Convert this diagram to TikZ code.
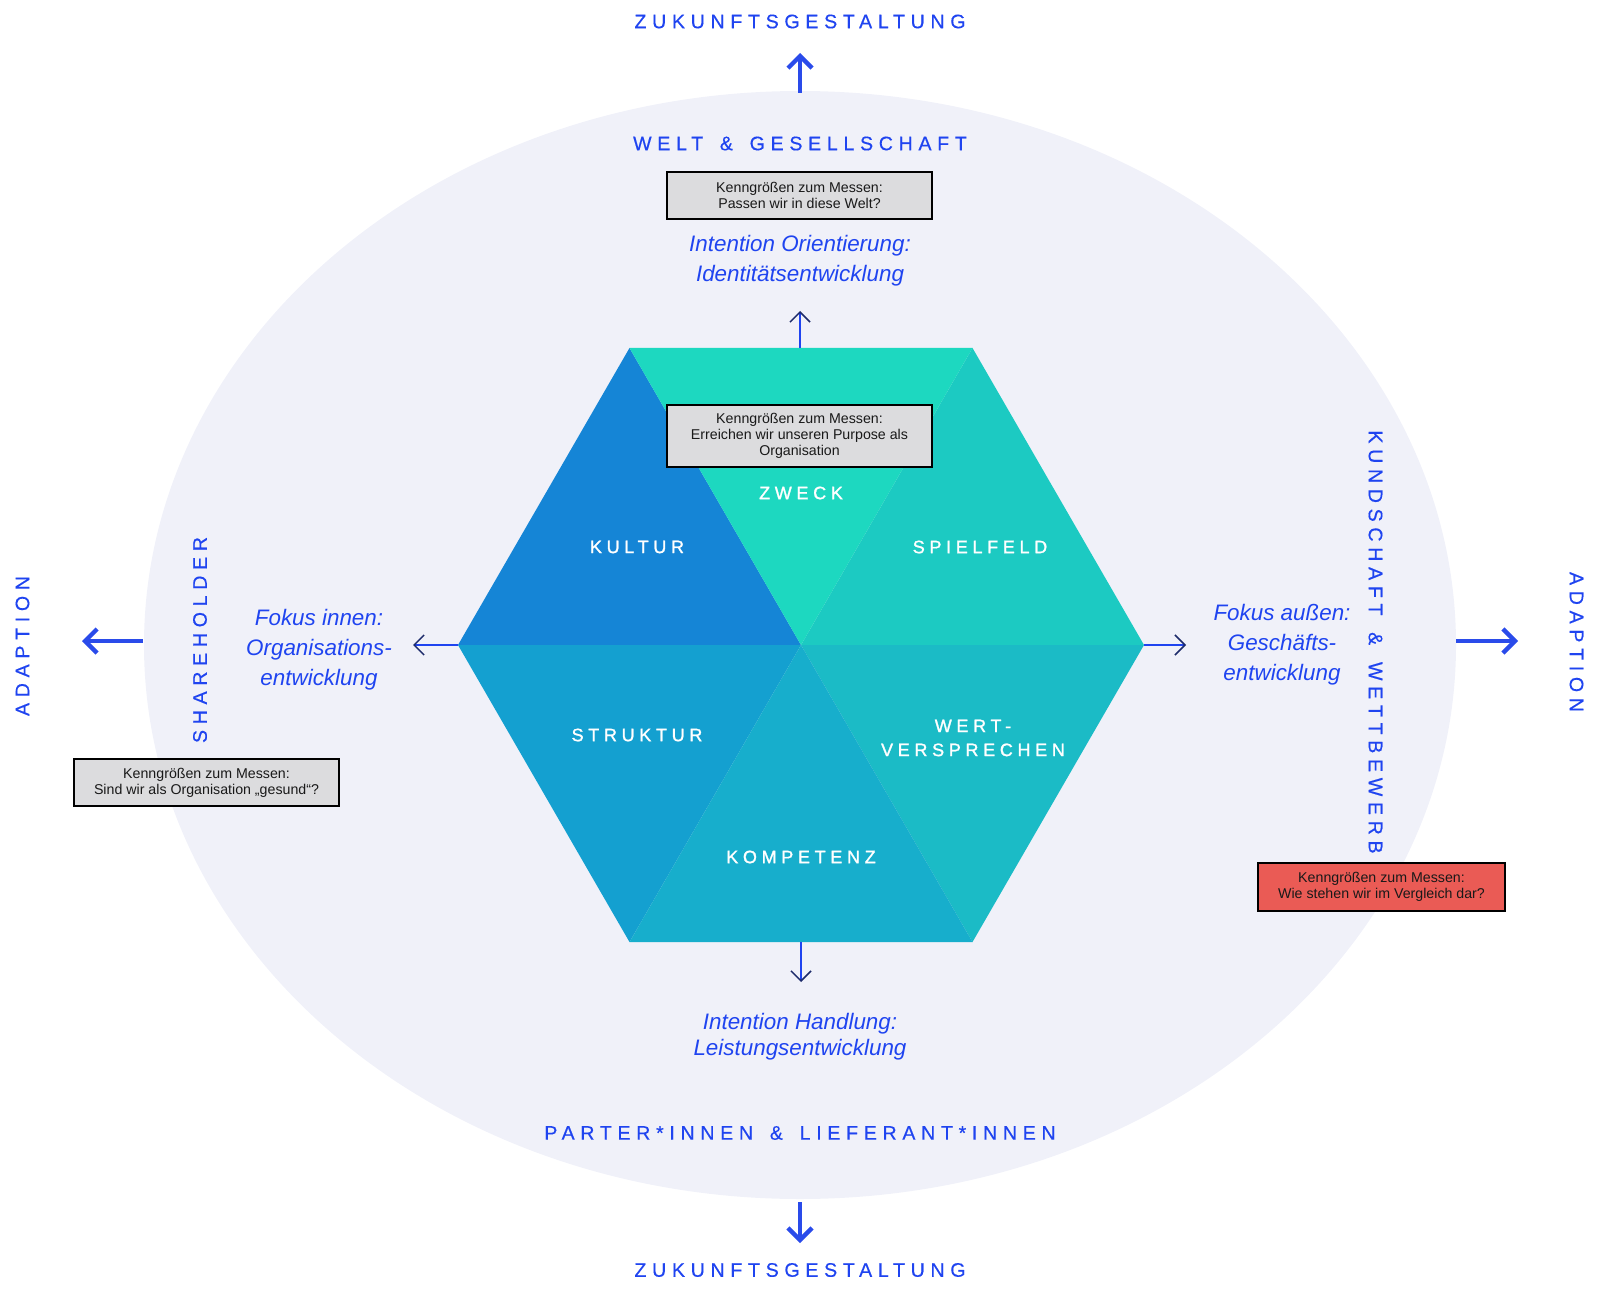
\documentclass[tikz,border=0pt]{standalone}
\usepackage{fontspec}
\setmainfont{Liberation Sans}
\newfontfamily\spacedfont[LetterSpace=29, RawFeature={embolden=0.4}]{Liberation Sans}
\newfontfamily\hexfont[LetterSpace=26, RawFeature={embolden=1.3}]{Liberation Sans}
\usetikzlibrary{arrows.meta}
\definecolor{ink}{HTML}{1F44F0}
\definecolor{inkarrow}{HTML}{2A4BEA}
\definecolor{navyhead}{HTML}{1D2B6B}
\definecolor{bg}{HTML}{F0F1F9}
\definecolor{cZweck}{HTML}{1DD8C0}
\definecolor{cKultur}{HTML}{1585D6}
\definecolor{cSpiel}{HTML}{1CCAC2}
\definecolor{cStruktur}{HTML}{14A0D0}
\definecolor{cKomp}{HTML}{17AECC}
\definecolor{cWert}{HTML}{1BBBC6}
\definecolor{boxgray}{HTML}{DCDCDE}
\definecolor{boxred}{HTML}{EA5B55}
\newcommand{\amp}{\hspace{2.8pt} \& \hspace{2.8pt}}
\tikzset{
  outerlabel/.style={text=ink, inner sep=0pt, font=\spacedfont\fontsize{9.8}{11}\selectfont},
  hexlabel/.style={text=white, inner sep=0pt, align=center, font=\hexfont\fontsize{9}{11}\selectfont},
  intent/.style={text=ink, inner sep=0pt, align=center, font=\fontsize{11.2}{15}\selectfont\itshape},
  kbox/.style={draw=black, line width=1pt, fill=boxgray, minimum width=132.5pt, minimum height=23.5pt,
    inner sep=0pt, align=center, text=black!90, font=\fontsize{7.1}{8}\selectfont},
  thickarrow/.style={line width=2.2pt, draw=inkarrow, -{Straight Barb[length=6pt,width=12pt]}},
  thinarrow/.style={line width=0.75pt, draw=ink, -{Straight Barb[length=5pt,width=10pt,color=navyhead]}}
}
\begin{document}
\begin{tikzpicture}[x=0.5pt,y=-0.5pt]
\useasboundingbox (0,0) rectangle (1600,1294);
% background ellipse
\fill[bg] (800,645) ellipse [x radius=328pt, y radius=277pt];
% hexagon coordinates
\coordinate (C) at (801,645);
\coordinate (L) at (458,645);
\coordinate (TL) at (629.5,348);
\coordinate (TR) at (972.5,348);
\coordinate (R) at (1144,645);
\coordinate (BR) at (972.5,942);
\coordinate (BL) at (629.5,942);
\fill[cKultur] (TL) -- (L) -- (C) -- cycle;
\fill[cSpiel] (TR) -- (R) -- (C) -- cycle;
\fill[cStruktur] (L) -- (BL) -- (C) -- cycle;
\fill[cWert] (R) -- (BR) -- (C) -- cycle;
\fill[cKomp] (BL) -- (BR) -- (C) -- cycle;
\fill[cZweck] (TL) -- (TR) -- (C) -- cycle;
% hexagon labels
\node[hexlabel] (zweck) at (801,493) {ZWECK};
\node[hexlabel] (kultur) at (637,547) {KULTUR};
\node[hexlabel] (spielfeld) at (980,547) {SPIELFELD};
\node[hexlabel] (struktur) at (637,735) {STRUKTUR};
\node[hexlabel] (wert) at (973,738) {WERT-\\[1pt]VERSPRECHEN};
\node[hexlabel] (kompetenz) at (801,857) {KOMPETENZ};
% outer labels
\node[outerlabel] (zuktop) at (800,21.5) {ZUKUNFTSGESTALTUNG};
\node[outerlabel] (welt) at (800,143.5) {WELT\amp GESELLSCHAFT};
\node[outerlabel] (partner) at (800,1133) {PARTER*INNEN\amp LIEFERANT*INNEN};
\node[outerlabel] (zukbot) at (800,1270) {ZUKUNFTSGESTALTUNG};
\node[outerlabel, rotate=90] (adaptl) at (22.5,646) {ADAPTION};
\node[outerlabel, rotate=90] (share) at (200,640) {SHAREHOLDER};
\node[outerlabel, rotate=-90] (kund) at (1375.5,642) {KUNDSCHAFT\amp WETTBEWERB};
\node[outerlabel, rotate=-90] (adaptr) at (1576.5,642) {ADAPTION};
% intention labels
\node[intent] (orient) at (800,261) {Intention Orientierung:\\Identitätsentwicklung};
\node[intent, font=\fontsize{11.2}{13}\selectfont\itshape] (handl) at (800,1037) {Intention Handlung:\\Leistungsentwicklung};
\node[intent] (innen) at (319,650) {Fokus innen:\\Organisations-\\entwicklung};
\node[intent] (aussen) at (1282,645) {Fokus außen:\\Geschäfts-\\entwicklung};
% boxes
\node[kbox] (box1) at (799.5,195.5) {Kenngrößen zum Messen:\\Passen wir in diese Welt?};
\node[kbox, minimum height=31pt] (box2) at (799.5,436) {Kenngrößen zum Messen:\\Erreichen wir unseren Purpose als\\Organisation};
\node[kbox] (box3) at (206.5,782.5) {Kenngrößen zum Messen:\\Sind wir als Organisation „gesund“?};
\node[kbox, fill=boxred, minimum width=123.5pt, minimum height=24pt] (box4) at (1381.5,887) {Kenngrößen zum Messen:\\Wie stehen wir im Vergleich dar?};
% thick arrows
\coordinate (eT) at (800,93);
\coordinate (aT) at (800,53);
\coordinate (eB) at (800,1202);
\coordinate (aB) at (800,1243);
\coordinate (eL) at (143,641);
\coordinate (aL) at (82,641);
\coordinate (eR) at (1456,641);
\coordinate (aR) at (1518,641);
\draw[thickarrow] (eT) -- (aT);
\draw[thickarrow] (eB) -- (aB);
\draw[thickarrow] (eL) -- (aL);
\draw[thickarrow] (eR) -- (aR);
% thin arrows
\coordinate (tT) at (800,311);
\coordinate (tB) at (801,982);
\coordinate (tL) at (413,645);
\coordinate (tR) at (1186,645);
\draw[thinarrow] (800,348) -- (tT);
\draw[thinarrow] (801,942) -- (tB);
\draw[thinarrow] (L) -- (tL);
\draw[thinarrow] (R) -- (tR);
\end{tikzpicture}
\end{document}
